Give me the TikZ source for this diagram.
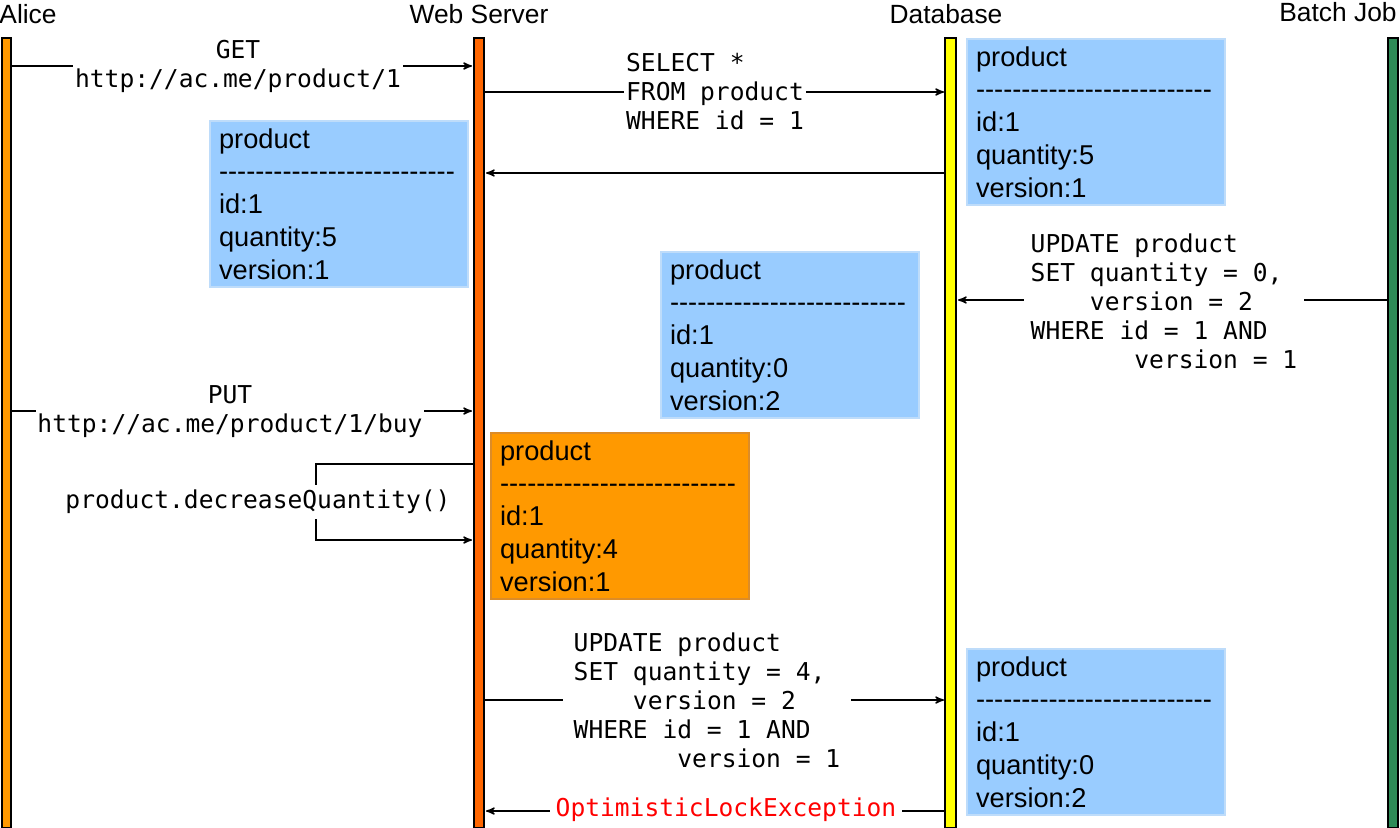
\documentclass[tikz,border=0pt]{standalone}
\usepackage{fontspec}
\setmainfont{Liberation Sans}
\setmonofont{DejaVu Sans Mono}
\usetikzlibrary{arrows,positioning}
\definecolor{boxBlue}{RGB}{153,204,255}
\definecolor{boxEdge}{RGB}{190,220,250}
\definecolor{boxOrange}{RGB}{255,153,0}
\definecolor{edgeOrange}{RGB}{220,140,40}
\definecolor{aliceCol}{RGB}{255,153,0}
\definecolor{webCol}{RGB}{255,102,0}
\definecolor{dbCol}{RGB}{255,255,0}
\definecolor{batchCol}{RGB}{46,139,87}
\newcommand\sepLine{\foreach\k in {1,...,26}{-\kern0pt}}
\begin{document}
\begin{tikzpicture}[x=0.02cm,y=-0.02cm,>=stealth',
    actor/.style={font=\fontsize{15}{18}\selectfont, anchor=center},
    bar/.style={draw=black, line width=0.6pt},
    msg/.style={font=\ttfamily\fontsize{14}{16.5}\selectfont, fill=white, inner sep=1pt, align=left},
    call/.style={->, line width=0.8pt},
    record/.style={anchor=north west, draw=boxEdge, line width=1.2pt, fill=boxBlue, minimum width=258*0.02cm, minimum height=165*0.02cm, align=left, text width=240*0.02cm, inner sep=0.15cm, font=\fontsize{15.5}{18.6}\selectfont},
    localRecord/.style={record, fill=boxOrange, draw=edgeOrange}
]
    \useasboundingbox (0,0) rectangle (1400,828);

    % Actors
    \node[actor] (alice) at (28,14) {Alice};
    \node[actor] (web) at (479,14) {Web Server};
    \node[actor] (db) at (946,14) {Database};
    \node[actor] (batch) at (1338,12) {Batch Job};

    % Lifelines
    \fill[aliceCol, bar] (2,38) rectangle (11,828);
    \fill[webCol, bar] (474,38) rectangle (484,828);
    \fill[dbCol, bar] (945,38) rectangle (956,828);
    \fill[batchCol, bar] (1388,38) rectangle (1398,828);

    % Ends of messages
    \coordinate (a1) at (11,66);   \coordinate (w1) at (472,66);
    \coordinate (w2) at (484,92);  \coordinate (d2) at (944,92);
    \coordinate (d3) at (945,173); \coordinate (w3) at (486,173);
    \coordinate (b4) at (1388,300);\coordinate (d4) at (958,300);
    \coordinate (a5) at (11,411);  \coordinate (w5) at (472,411);
    \coordinate (w6) at (474,464); \coordinate (l6a) at (316,464);
    \coordinate (l6b) at (316,540);\coordinate (w6b) at (472,540);
    \coordinate (w7) at (484,700); \coordinate (d7) at (944,700);
    \coordinate (d8) at (945,811); \coordinate (w8) at (486,811);

    % Messages
    \draw[call] (a1) -- (w1);
    \node[msg, align=center] (getMsg) at (238,66) {GET\\http://ac.me/product/1};
    \draw[call] (w2) -- (d2);
    \node[msg] (selectMsg) at (715,92) {SELECT *\\FROM product\\WHERE id = 1};
    \draw[call] (d3) -- (w3);
    \draw[call] (b4) -- (d4);
    \node[msg, inner sep=4pt] (batchMsg) at (1164,301) {UPDATE product\\SET quantity = 0,\\\ \ \ \ version = 2\\WHERE id = 1 AND\\\ \ \ \ \ \ \ version = 1};
    \draw[call] (a5) -- (w5);
    \node[msg, align=center] (putMsg) at (230,412) {PUT\\http://ac.me/product/1/buy};
    \draw[call] (w6) -- (l6a) -- (l6b) -- (w6b);
    \node[msg, inner sep=3pt] (decMsg) at (258,502) {product.decreaseQuantity()};
    \draw[call] (w7) -- (d7);
    \node[msg, inner sep=6pt] (updateMsg) at (707,700) {UPDATE product\\SET quantity = 4,\\\ \ \ \ version = 2\\WHERE id = 1 AND\\\ \ \ \ \ \ \ version = 1};
    \draw[call] (d8) -- (w8);
    \node[msg, text=red, inner sep=3pt] (lockMsg) at (726,810) {OptimisticLockException};

    % Records
    \node[record] (dbRow1) at (966,38) {product\\\sepLine\\id:1\\quantity:5\\version:1};
    \node[record] (webRow1) at (209,120) {product\\\sepLine\\id:1\\quantity:5\\version:1};
    \node[record] (dbRow2) at (660,251) {product\\\sepLine\\id:1\\quantity:0\\version:2};
    \node[localRecord] (webRow2) at (490,432) {product\\\sepLine\\id:1\\quantity:4\\version:1};
    \node[record] (dbRow3) at (966,648) {product\\\sepLine\\id:1\\quantity:0\\version:2};
\end{tikzpicture}
\end{document}
